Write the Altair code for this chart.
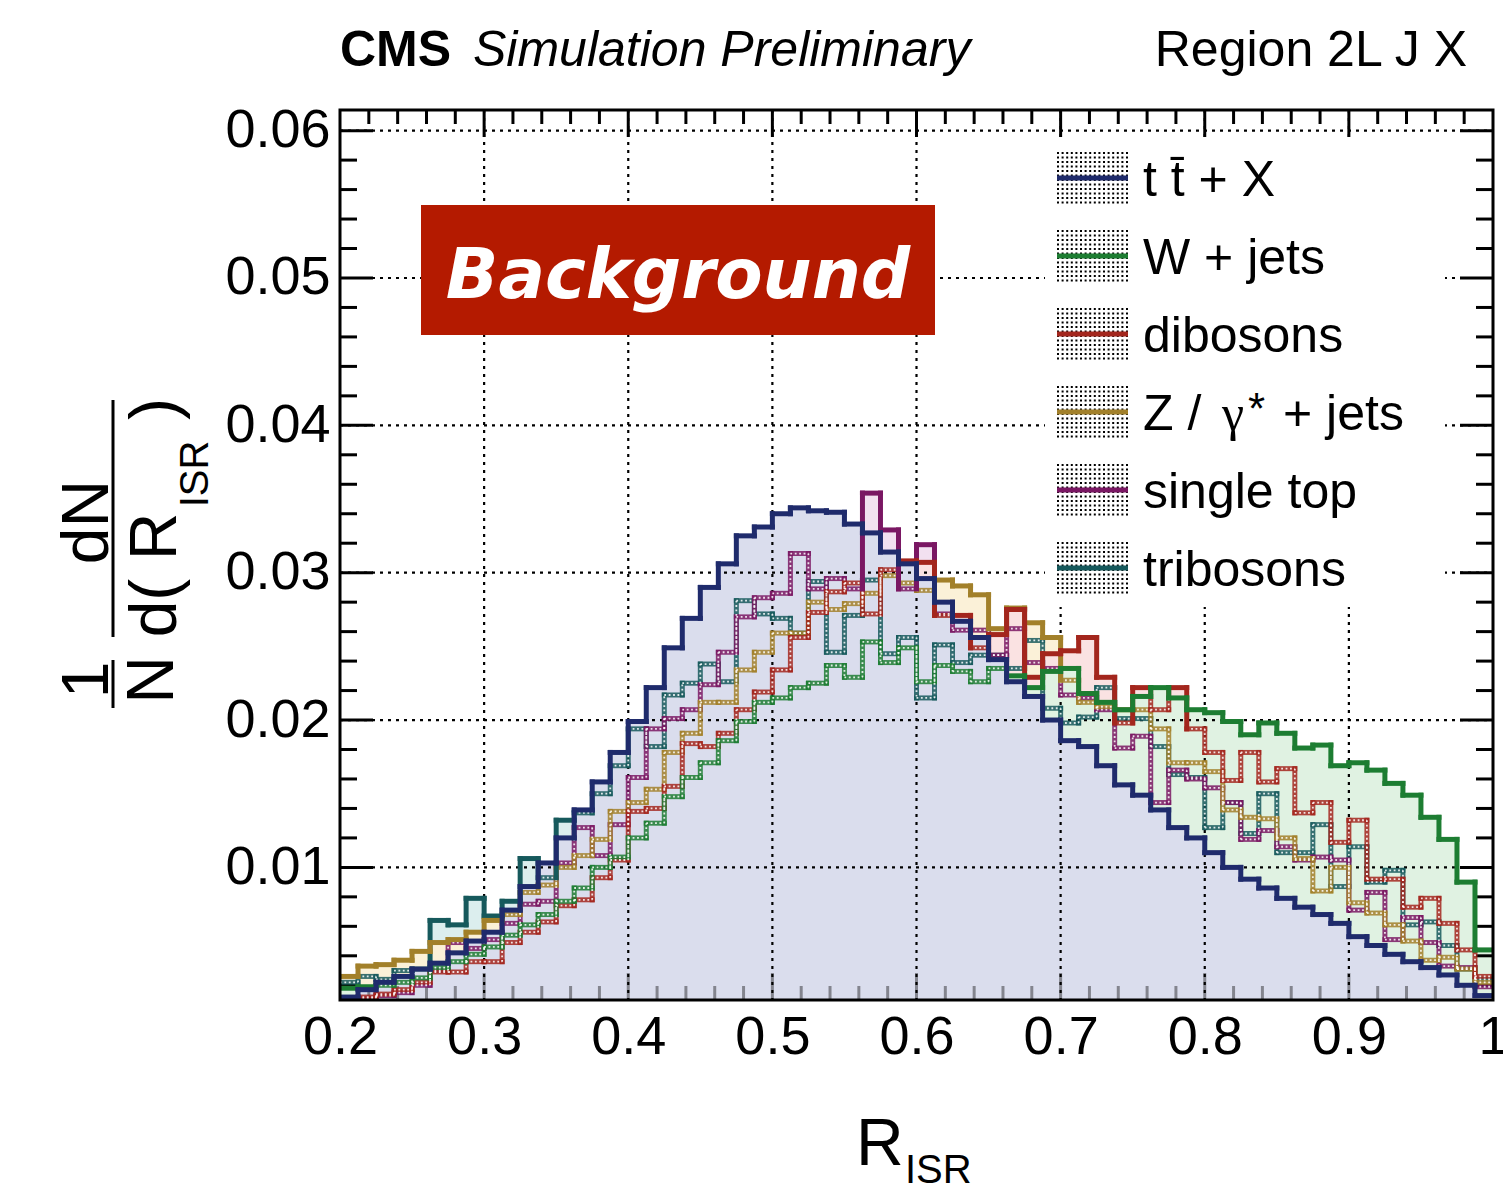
import altair as alt
import numpy as np
import pandas as pd

# ---------------- data ----------------
X_MIN, X_MAX = 0.2, 1.0
Y_MIN, Y_MAX = 0.001, 0.0614
N_BINS = 64

ttbar = [0.0012, 0.0017, 0.0022, 0.0026, 0.0031, 0.0035, 0.0042, 0.0050, 0.0056, 0.0071,
         0.0087, 0.0103, 0.0120, 0.0139, 0.0158, 0.0178, 0.0199, 0.0222, 0.0249, 0.0269,
         0.0290, 0.0306, 0.0325, 0.0331, 0.0340, 0.0344, 0.0342, 0.0341, 0.0333, 0.0327,
         0.0314, 0.0306, 0.0296, 0.0280, 0.0267, 0.0256, 0.0241, 0.0226, 0.0216, 0.0200,
         0.0186, 0.0182, 0.0169, 0.0156, 0.0149, 0.0139, 0.0127, 0.0120, 0.0110, 0.0100,
         0.0092, 0.0086, 0.0079, 0.0073, 0.0068, 0.0062, 0.0053, 0.0047, 0.0041, 0.0036,
         0.0032, 0.0027, 0.0020, 0.0013]
wjets = [0.0018, 0.0019, 0.0020, 0.0022, 0.0025, 0.0032, 0.0036, 0.0041, 0.0046, 0.0054,
         0.0061, 0.0068, 0.0077, 0.0086, 0.0100, 0.0107, 0.0120, 0.0130, 0.0148, 0.0161,
         0.0171, 0.0186, 0.0199, 0.0212, 0.0215, 0.0222, 0.0225, 0.0237, 0.0229, 0.0253,
         0.0239, 0.0249, 0.0226, 0.0237, 0.0233, 0.0226, 0.0235, 0.0230, 0.0222, 0.0233,
         0.0235, 0.0218, 0.0212, 0.0207, 0.0216, 0.0222, 0.0215, 0.0207, 0.0205, 0.0199,
         0.0190, 0.0198, 0.0191, 0.0181, 0.0183, 0.0169, 0.0171, 0.0166, 0.0157, 0.0149,
         0.0134, 0.0119, 0.0090, 0.0044]
dibosons = [0.0010, 0.0012, 0.0014, 0.0017, 0.0022, 0.0029, 0.0029, 0.0036, 0.0036, 0.0049,
            0.0056, 0.0063, 0.0074, 0.0078, 0.0093, 0.0105, 0.0138, 0.0140, 0.0155, 0.0184,
            0.0182, 0.0191, 0.0207, 0.0219, 0.0234, 0.0256, 0.0273, 0.0287, 0.0293, 0.0272,
            0.0302, 0.0308, 0.0307, 0.0271, 0.0271, 0.0249, 0.0258, 0.0275, 0.0229, 0.0245,
            0.0247, 0.0256, 0.0229, 0.0198, 0.0222, 0.0207, 0.0222, 0.0194, 0.0178, 0.0159,
            0.0178, 0.0158, 0.0167, 0.0137, 0.0144, 0.0117, 0.0132, 0.0092, 0.0092, 0.0073,
            0.0079, 0.0062, 0.0044, 0.0026]
zjets = [0.0026, 0.0033, 0.0034, 0.0037, 0.0043, 0.0049, 0.0051, 0.0056, 0.0064, 0.0068,
         0.0083, 0.0088, 0.0100, 0.0108, 0.0119, 0.0138, 0.0144, 0.0153, 0.0178, 0.0191,
         0.0212, 0.0212, 0.0234, 0.0246, 0.0259, 0.0259, 0.0280, 0.0275, 0.0279, 0.0286,
         0.0298, 0.0293, 0.0288, 0.0295, 0.0291, 0.0285, 0.0262, 0.0276, 0.0266, 0.0256,
         0.0227, 0.0212, 0.0209, 0.0207, 0.0207, 0.0194, 0.0171, 0.0171, 0.0165, 0.0139,
         0.0134, 0.0133, 0.0120, 0.0106, 0.0084, 0.0100, 0.0076, 0.0069, 0.0061, 0.0050,
         0.0037, 0.0039, 0.0031, 0.0022]
singletop = [0.0010, 0.0011, 0.0013, 0.0015, 0.0020, 0.0030, 0.0049, 0.0045, 0.0051, 0.0062,
             0.0075, 0.0077, 0.0103, 0.0127, 0.0108, 0.0129, 0.0161, 0.0194, 0.0201, 0.0207,
             0.0224, 0.0246, 0.0270, 0.0283, 0.0286, 0.0313, 0.0289, 0.0296, 0.0289, 0.0354,
             0.0329, 0.0289, 0.0319, 0.0272, 0.0261, 0.0261, 0.0244, 0.0262, 0.0239, 0.0235,
             0.0217, 0.0215, 0.0207, 0.0181, 0.0189, 0.0144, 0.0166, 0.0160, 0.0154, 0.0144,
             0.0119, 0.0125, 0.0114, 0.0105, 0.0107, 0.0105, 0.0071, 0.0083, 0.0051, 0.0066,
             0.0049, 0.0033, 0.0032, 0.0019]
tribosons = [0.0022, 0.0026, 0.0024, 0.0030, 0.0031, 0.0064, 0.0061, 0.0079, 0.0067, 0.0077,
             0.0106, 0.0093, 0.0132, 0.0137, 0.0150, 0.0169, 0.0194, 0.0182, 0.0217, 0.0225,
             0.0238, 0.0226, 0.0281, 0.0272, 0.0269, 0.0259, 0.0294, 0.0246, 0.0271, 0.0295,
             0.0245, 0.0256, 0.0215, 0.0251, 0.0239, 0.0244, 0.0244, 0.0235, 0.0254, 0.0208,
             0.0198, 0.0202, 0.0222, 0.0201, 0.0201, 0.0182, 0.0163, 0.0161, 0.0127, 0.0144,
             0.0123, 0.0150, 0.0110, 0.0110, 0.0129, 0.0087, 0.0114, 0.0090, 0.0098, 0.0061,
             0.0063, 0.0047, 0.0031, 0.0024]

series_names = ["t t\u0304 + X", "W + jets", "dibosons", "Z / \u03b3* + jets", "single top", "tribosons"]
series_values = [ttbar, wjets, dibosons, zjets, singletop, tribosons]
line_colors = ["#1f2b6c", "#1d7d32", "#a3261d", "#a2802a", "#7a1763", "#16595c"]
fill_colors = ["#dadded", "#e0f2e2", "#fae2e2", "#fbf1d8", "#f2e0f0", "#dceeee"]
draw_order = [5, 4, 3, 2, 1, 0]   # tribosons drawn first, t tbar + X last

x_label_values = [0.2, 0.3, 0.4, 0.5, 0.6, 0.7, 0.8, 0.9, 1.0]
x_grid_values = [0.3, 0.4, 0.5, 0.6, 0.7, 0.8, 0.9]
y_major_values = [0.01, 0.02, 0.03, 0.04, 0.05, 0.06]
y_minor_values = [round(0.002 * k, 3) for k in range(1, 31) if k % 5]
x_minor_values = [round(0.2 + 0.02 * k, 2) for k in range(1, 40) if k % 5]

title_cms = "CMS"
title_sim = "Simulation Preliminary"
title_region = "Region 2L J X"
badge_text = "Background"
z_label_parts = ["Z /", "\u03b3", "*", "+ jets"]

FONT = "Liberation Sans"
W, H = 1153, 890

xs = alt.Scale(domain=[X_MIN, X_MAX], nice=False, zero=False)
ys = alt.Scale(domain=[Y_MIN, Y_MAX], nice=False, zero=False)
color_scale = alt.Scale(domain=series_names, range=line_colors)
edges = np.linspace(X_MIN, X_MAX, N_BINS + 1)
one = pd.DataFrame({"k": [0]})

xaxis = alt.Axis(values=x_label_values, labelExpr="datum.value == 1 ? '1' : format(datum.value, '.1f')",
                 labelFont=FONT, labelFontSize=54, labelColor="black", labelPadding=10,
                 ticks=False, domain=False, grid=False, title=None, labelOverlap=False, labelFlush=False)
yaxis = alt.Axis(values=y_major_values, format=".2f", labelFont=FONT, labelFontSize=54,
                 labelColor="black", labelPadding=10, ticks=False, domain=False, grid=False,
                 title=None, labelOverlap=False, labelFlush=False)


def X(field):
    return alt.X(field, scale=xs, axis=xaxis)


def Y(field):
    return alt.Y(field, scale=ys, axis=yaxis)


layers = []

# ---------- filled histograms (opaque tint, drawn in ROOT order) ----------
for si in draw_order:
    vals = series_values[si]
    df = pd.DataFrame({"x": edges, "y": list(vals) + [vals[-1]], "base": 0.0})
    layers.append(
        alt.Chart(df).mark_area(interpolate="step-after", color=fill_colors[si], opacity=1, clip=True)
        .encode(x=X("x:Q"), y=Y("y:Q"), y2="base:Q")
    )

# ---------- grid ----------
grid_style = dict(color="black", strokeWidth=2.2, strokeDash=[3, 5])
layers.append(alt.Chart(pd.DataFrame({"v": x_grid_values})).mark_rule(**grid_style)
              .encode(x=X("v:Q"), y=alt.value(0), y2=alt.value(H)))
layers.append(alt.Chart(pd.DataFrame({"v": y_major_values})).mark_rule(**grid_style)
              .encode(y=Y("v:Q"), x=alt.value(0), x2=alt.value(W)))

# ---------- inward ticks ----------
tick_style = dict(color="black", strokeWidth=3)
for vals, length in ((y_major_values, 33), (y_minor_values, 17)):
    d = pd.DataFrame({"v": vals})
    layers.append(alt.Chart(d).mark_rule(**tick_style)
                  .encode(y=Y("v:Q"), x=alt.value(0), x2=alt.value(length)))
    layers.append(alt.Chart(d).mark_rule(**tick_style)
                  .encode(y=Y("v:Q"), x=alt.value(W - length), x2=alt.value(W)))
for vals, length in ((x_grid_values, 27), (x_minor_values, 14)):
    d = pd.DataFrame({"v": vals})
    layers.append(alt.Chart(d).mark_rule(**tick_style)
                  .encode(x=X("v:Q"), y=alt.value(0), y2=alt.value(length)))
    layers.append(alt.Chart(d).mark_rule(color="black", strokeWidth=3, opacity=0.4)
                  .encode(x=X("v:Q"), y=alt.value(H - length), y2=alt.value(H)))

# ---------- histogram outlines: segments hidden under later fills look dotted ----------
rows = []
for pos, si in enumerate(draw_order):
    v = series_values[si]
    later = [series_values[t] for t in draw_order[pos + 1:]]
    for i in range(N_BINS):
        cov = any(l[i] > v[i] for l in later)
        rows.append(dict(series=series_names[si], x0=edges[i], x1=edges[i + 1], y0=v[i], y1=v[i], covered=cov))
        if i > 0:
            top = max(v[i - 1], v[i])
            covv = any(max(l[i - 1], l[i]) >= top for l in later)
            rows.append(dict(series=series_names[si], x0=edges[i], x1=edges[i], y0=v[i - 1], y1=v[i], covered=covv))
seg = pd.DataFrame(rows)
seg_enc = dict(x=X("x0:Q"), x2="x1:Q", y=Y("y0:Q"), y2="y1:Q",
               color=alt.Color("series:N", scale=color_scale, legend=None))
covered = seg[seg.covered]
layers.append(alt.Chart(covered).mark_rule(strokeWidth=5, strokeCap="square", opacity=0.85, clip=True)
              .encode(**seg_enc))
layers.append(alt.Chart(covered).mark_rule(strokeWidth=1.8, strokeDash=[1.8, 2.6], color="white",
                                           opacity=0.85, clip=True)
              .encode(x=X("x0:Q"), x2="x1:Q", y=Y("y0:Q"), y2="y1:Q"))
layers.append(alt.Chart(seg[~seg.covered]).mark_rule(strokeWidth=5, strokeCap="square", clip=True)
              .encode(**seg_enc))

# ---------- frame ----------
layers.append(alt.Chart(one).mark_rect(fillOpacity=0, stroke="black", strokeWidth=3)
              .encode(x=alt.value(0), x2=alt.value(W), y=alt.value(0), y2=alt.value(H)))

# ---------- "Background" badge ----------
layers.append(alt.Chart(one).mark_rect(color="#b41a00")
              .encode(x=alt.value(81), x2=alt.value(595), y=alt.value(95), y2=alt.value(225)))
layers.append(alt.Chart(pd.DataFrame({"t": [badge_text]}))
              .mark_text(font="DejaVu Sans", fontSize=69, fontWeight="bold", fontStyle="italic",
                         color="white", align="center", baseline="alphabetic")
              .encode(text="t:N", x=alt.value(338), y=alt.value(188)))

# ---------- legend ----------
LEG_Y0, LEG_DY = 68, 78
layers.append(alt.Chart(one).mark_rect(color="white")
              .encode(x=alt.value(705), x2=alt.value(1105), y=alt.value(30), y2=alt.value(497)))
leg = pd.DataFrame({"series": series_names,
                    "ly": [LEG_Y0 + LEG_DY * i for i in range(len(series_names))]})
leg["tb"] = leg["ly"] + 18
dots = pd.DataFrame({"ry": [LEG_Y0 + LEG_DY * i + o for i in range(len(series_names))
                            for o in np.arange(-25, 26, 4.5)]})
layers.append(alt.Chart(dots).mark_rule(color="black", strokeWidth=2, strokeDash=[2, 2.6])
              .encode(y=alt.Y("ry:Q", scale=None), x=alt.value(717), x2=alt.value(788)))
layers.append(alt.Chart(leg).mark_rule(strokeWidth=5)
              .encode(y=alt.Y("ly:Q", scale=None), x=alt.value(717), x2=alt.value(788),
                      color=alt.Color("series:N", scale=color_scale, legend=None)))
leg_plain = leg[leg.series != series_names[3]]
layers.append(alt.Chart(leg_plain).mark_text(font=FONT, fontSize=50, align="left", baseline="alphabetic",
                                              color="black")
              .encode(y=alt.Y("tb:Q", scale=None), x=alt.value(803), text="series:N"))


# ---------- titles ----------
def txt(s, x, y, size, font=FONT, **kw):
    style = dict(font=font, fontSize=size, color="black", baseline="alphabetic")
    style.update(kw)
    return (alt.Chart(pd.DataFrame({"t": [s]})).mark_text(**style)
            .encode(text="t:N", x=alt.value(x), y=alt.value(y)))


z_base = LEG_Y0 + LEG_DY * 3 + 18
layers.append(txt(z_label_parts[0], 803, z_base, 50, align="left"))
layers.append(txt(z_label_parts[1], 882, z_base, 50, font="Liberation Serif", align="left"))
layers.append(txt(z_label_parts[2], 908, z_base - 6, 44, align="left"))
layers.append(txt(z_label_parts[3], 943, z_base, 50, align="left"))

layers.append(txt(title_cms, 0, -44, 50, fontWeight="bold", align="left"))
layers.append(txt(title_sim, 133, -44, 50, fontStyle="italic", align="left"))
layers.append(txt(title_region, 1127, -44, 50, align="right"))

# x title R_ISR
layers.append(txt("R", 516, 1055, 66, align="left"))
layers.append(txt("ISR", 565, 1073, 40, align="left"))

# y title  1/N dN/d(R_ISR)  (rotated)
layers.append(txt("dN", -232, 412, 66, align="center", angle=270))
layers.append(txt("d( R", -164, 465, 66, align="center", angle=270))
layers.append(txt("ISR", -132, 364, 40, align="center", angle=270))
layers.append(txt(")", -164, 299, 66, align="center", angle=270))
layers.append(txt("1", -232, 570, 66, align="center", angle=270))
layers.append(txt("N", -167, 570, 66, align="center", angle=270))
layers.append(alt.Chart(one).mark_rule(color="black", strokeWidth=3)
              .encode(x=alt.value(-227), y=alt.value(290), y2=alt.value(527)))
layers.append(alt.Chart(one).mark_rule(color="black", strokeWidth=3)
              .encode(x=alt.value(-227), y=alt.value(550), y2=alt.value(598)))

chart = (alt.layer(*layers)
         .properties(width=W, height=H, autosize=alt.AutoSizeParams(type="none"),
                     padding={"left": 332, "top": 102, "right": 10, "bottom": 194},
                     background="white")
         .configure_view(stroke=None))

chart.save("out.html", embed_options={"renderer": "svg", "actions": False})
